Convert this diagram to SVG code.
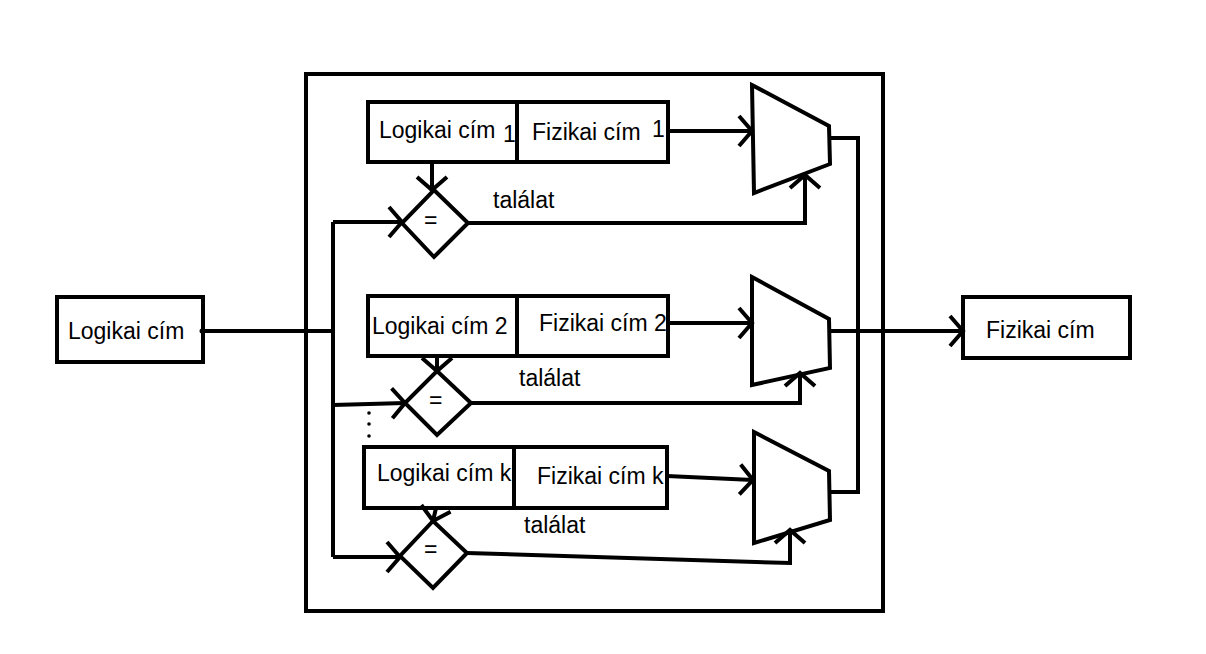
<svg xmlns="http://www.w3.org/2000/svg" width="1206" height="654" viewBox="0 0 1206 654">
<style>
.s{fill:none;stroke:#000;stroke-width:4;stroke-linejoin:miter}
.b{fill:#fff;stroke:#000;stroke-width:4}
.t{font-family:"Liberation Sans",Arial,sans-serif;font-size:23px;fill:#000}
.c{fill:none;stroke:#000;stroke-width:4}
</style>
<defs>
<marker id="ar" markerUnits="userSpaceOnUse" markerWidth="40" markerHeight="40" viewBox="-20 -20 40 40" refX="0" refY="0" orient="auto" overflow="visible">
<path d="M-13,-15 L0,0 L-13,15" fill="none" stroke="#000" stroke-width="4"/>
</marker>
</defs>
<rect width="1206" height="654" fill="#fff"/>
<g id="frame"><rect class="s" x="306" y="74" width="577" height="537"/></g>
<g id="input"><rect class="b" x="57" y="297" width="146" height="65"/><text class="t" x="68" y="339">Logikai cím</text><circle cx="202" cy="331" r="2.5"/></g>
<g id="output"><rect class="b" x="963" y="297" width="167" height="61"/><text class="t" x="986" y="338">Fizikai cím</text></g>
<g id="entry1"><rect class="b" x="368" y="102" width="300" height="60"/><line class="s" x1="517" y1="102" x2="517" y2="162"/><text class="t" x="379" y="138">Logikai cím</text><text class="t" x="503" y="142">1</text><text class="t" x="532" y="140">Fizikai cím</text><text class="t" x="652" y="137">1</text></g>
<g id="entry2"><rect class="b" x="368" y="296" width="300" height="60"/><line class="s" x1="517" y1="296" x2="517" y2="356"/><text class="t" x="372" y="334">Logikai cím 2</text><text class="t" x="539" y="331">Fizikai cím 2</text></g>
<g id="entryk"><rect class="b" x="364" y="447" width="303" height="61"/><line class="s" x1="514" y1="447" x2="514" y2="508"/><text class="t" x="377" y="481">Logikai cím k</text><text class="t" x="537" y="484">Fizikai cím k</text></g>
<g id="cmp1"><polygon class="s" points="434,190 468,223 434,257 402,223"/><text class="t" x="424" y="228">=</text></g>
<g id="cmp2"><polygon class="s" points="437,371 471,403 437,435 405,403"/><text class="t" x="429" y="408">=</text></g>
<g id="cmpk"><polygon class="s" points="433,521 467,553 433,588 400,556"/><text class="t" x="424" y="557">=</text></g>
<g id="mux1"><polygon class="s" points="752,85 829,126 830,164 754,193"/></g>
<g id="mux2"><polygon class="s" points="752,277 829,319 830,368 752,385"/></g>
<g id="muxk"><polygon class="s" points="754,432 829,471 830,520 754,543"/></g>
<g id="connectors">
<path class="c" d="M203,331 H333"/>
<path class="c" d="M333,222 V557"/>
<path class="c" d="M333,222 H402" marker-end="url(#ar)"/>
<path class="c" d="M333,405 L405,403" marker-end="url(#ar)"/>
<path class="c" d="M333,557 H400" marker-end="url(#ar)"/>
<path class="c" d="M432,162 V190" marker-end="url(#ar)"/>
<path class="c" d="M437,356 V371" marker-end="url(#ar)"/>
<path class="c" d="M436,508 L433,521" marker-end="url(#ar)"/>
<path class="c" d="M668,131 H752" marker-end="url(#ar)"/>
<path class="c" d="M668,323 H752" marker-end="url(#ar)"/>
<path class="c" d="M667,476 L753,480" marker-end="url(#ar)"/>
<path class="c" d="M468,223 H805 V175" marker-end="url(#ar)"/>
<path class="c" d="M471,403 H800 V373" marker-end="url(#ar)"/>
<path class="c" d="M467,553 L790,563 V530" marker-end="url(#ar)"/>
<path class="c" d="M830,138 H858 V492 H830"/>
<path class="c" d="M830,331 H963" marker-end="url(#ar)"/>
</g>
<g id="labels">
<text class="t" x="493" y="208">találat</text>
<text class="t" x="519" y="386">találat</text>
<text class="t" x="524" y="533">találat</text>
<circle cx="369" cy="413" r="1.8"/><circle cx="369" cy="424" r="1.8"/><circle cx="369" cy="436" r="1.8"/>
</g>
</svg>
